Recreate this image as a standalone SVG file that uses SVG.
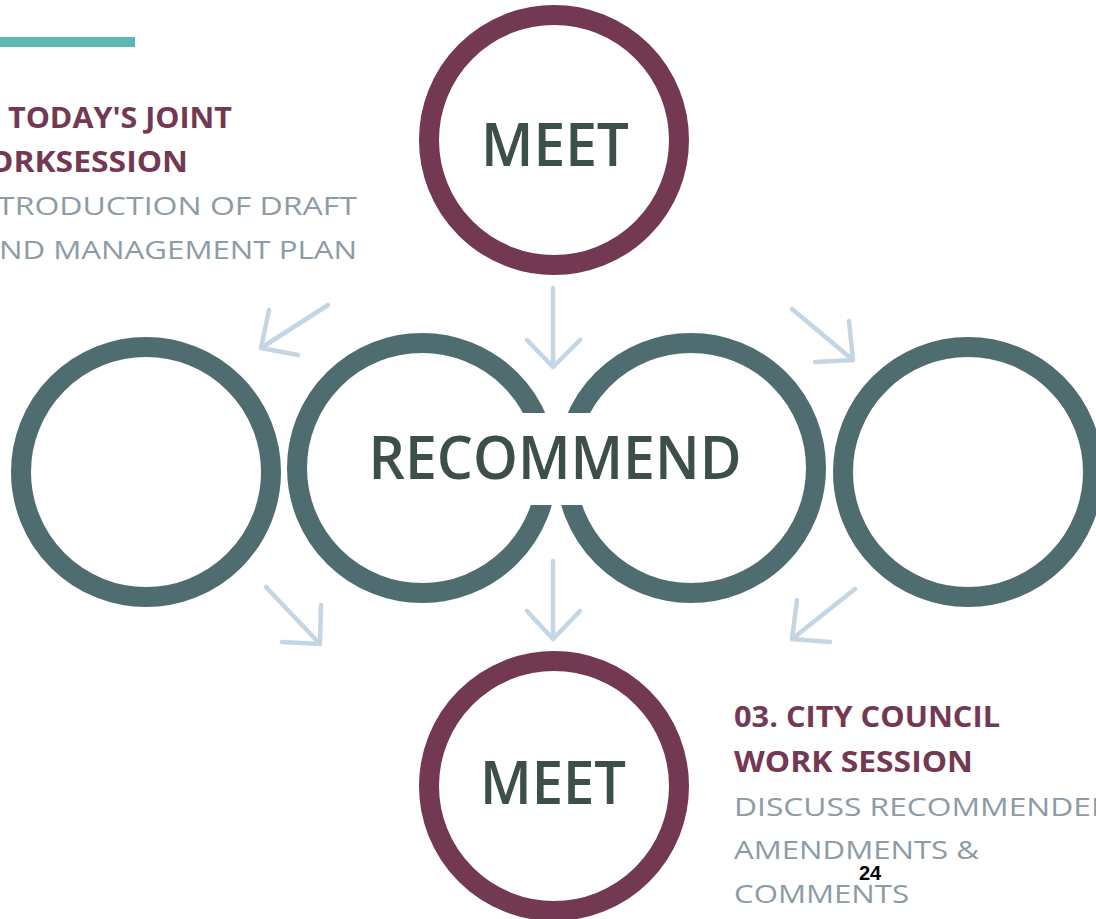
<svg xmlns="http://www.w3.org/2000/svg" width="1096" height="919" viewBox="0 0 1096 919">
<style>
.meet{fill:none;stroke:#733852;stroke-width:20}
.rec{fill:none;stroke:#4F6D71;stroke-width:20}
.big{font-family:"Open Sans","Liberation Sans",sans-serif;font-weight:600;fill:#3D4F4B;text-anchor:middle}
.head{font-family:"Open Sans","Liberation Sans",sans-serif;font-weight:700;font-size:29px;fill:#733852}
.body{font-family:"Open Sans","Liberation Sans",sans-serif;font-weight:400;font-size:26px;fill:#8C9BA5}
.arr{fill:none;stroke:#C4D5E3;stroke-width:4.5;stroke-linecap:round;stroke-linejoin:round}
</style>
<rect width="1096" height="919" fill="#ffffff"/>
<rect x="0" y="37" width="135" height="10" fill="#5CB8B2"/>
<g id="note-top-left">
<text class="head" x="232" y="128" text-anchor="end" textLength="224" lengthAdjust="spacingAndGlyphs">TODAY'S JOINT</text>
<text class="head" x="188" y="172" text-anchor="end" textLength="200" lengthAdjust="spacingAndGlyphs">ORKSESSION</text>
<text class="body" x="-3" y="215" textLength="360" lengthAdjust="spacingAndGlyphs">TRODUCTION OF DRAFT</text>
<text class="body" x="-1" y="259" textLength="358" lengthAdjust="spacingAndGlyphs">ND MANAGEMENT PLAN</text>
</g>
<g id="meet-top">
<circle class="meet" cx="554" cy="140" r="125"/>
<text class="big" x="555" y="166" font-size="59" textLength="148" lengthAdjust="spacingAndGlyphs">MEET</text>
</g>
<g id="circle-far-left">
<circle class="rec" cx="146" cy="472" r="125"/>
</g>
<g id="circle-far-right">
<circle class="rec" cx="968" cy="472" r="125"/>
</g>
<g id="recommend">
<circle class="rec" cx="422" cy="468" r="125"/>
<circle class="rec" cx="691" cy="468" r="125"/>
<rect x="360" y="413" width="390" height="92" fill="#ffffff"/>
<text class="big" x="555" y="479" font-size="60" textLength="373" lengthAdjust="spacingAndGlyphs">RECOMMEND</text>
</g>
<g id="meet-bottom">
<circle class="meet" cx="554" cy="786" r="125"/>
<text class="big" x="553" y="804" font-size="59" textLength="146" lengthAdjust="spacingAndGlyphs">MEET</text>
</g>
<g id="connectors">
<path class="arr" d="M328 305 L261 348 M269 310 L261 348 L298 355"/>
<path class="arr" d="M553 288 L553 367 M527 340 L553 367 L580 340"/>
<path class="arr" d="M792 309 L853 360 M849 321 L853 360 L815 362"/>
<path class="arr" d="M266 587 L320 644 M321 605 L320 644 L282 642"/>
<path class="arr" d="M553 561 L553 639 M527 611 L553 639 L580 611"/>
<path class="arr" d="M855 589 L792 639 M797 600 L792 639 L830 642"/>
</g>
<g id="note-bottom-right">
<text class="head" x="734" y="727" textLength="266" lengthAdjust="spacingAndGlyphs">03. CITY COUNCIL</text>
<text class="head" x="734" y="772" textLength="239" lengthAdjust="spacingAndGlyphs">WORK SESSION</text>
<text class="body" x="734" y="816" textLength="380" lengthAdjust="spacingAndGlyphs">DISCUSS RECOMMENDED</text>
<text class="body" x="734" y="859" textLength="245" lengthAdjust="spacingAndGlyphs">AMENDMENTS &amp;</text>
<text class="body" x="734" y="903" textLength="175" lengthAdjust="spacingAndGlyphs">COMMENTS</text>
</g>
<text x="870" y="880" font-family="'Liberation Sans',Arial,sans-serif" font-weight="700" font-size="20" text-anchor="middle" fill="#000000">24</text>
</svg>
